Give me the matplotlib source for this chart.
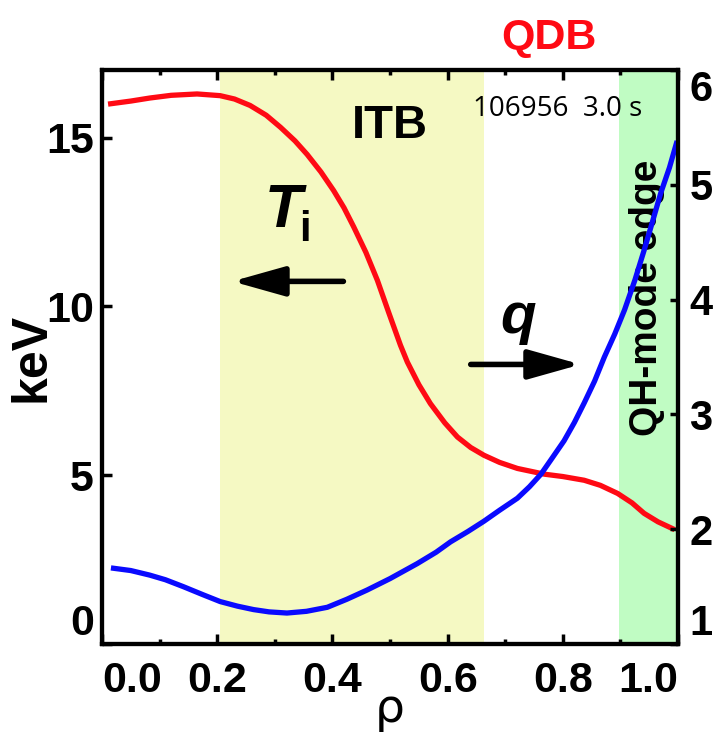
import matplotlib
matplotlib.use("Agg")
import matplotlib.pyplot as plt
from matplotlib.ticker import MultipleLocator, FixedLocator

# ion temperature profile (keV) vs normalized radius
rho_ti = [0.015, 0.05, 0.083, 0.12, 0.165, 0.205, 0.23, 0.257, 0.285, 0.31,
          0.335, 0.356, 0.38, 0.402, 0.42, 0.437, 0.458, 0.478, 0.498, 0.518,
          0.53, 0.55, 0.57, 0.595, 0.617, 0.64, 0.663, 0.69, 0.721, 0.768,
          0.80, 0.837, 0.865, 0.895, 0.92, 0.941, 0.965, 0.99]
ti_kev = [16.0, 16.08, 16.17, 16.25, 16.29, 16.24, 16.14, 15.95, 15.66, 15.3,
          14.9, 14.5, 13.98, 13.43, 12.92, 12.35, 11.6, 10.77, 9.8, 8.85,
          8.35, 7.68, 7.12, 6.55, 6.13, 5.82, 5.59, 5.38, 5.2, 5.03,
          4.96, 4.85, 4.7, 4.46, 4.18, 3.87, 3.62, 3.42]

# safety factor profile
rho_q = [0.02, 0.05, 0.083, 0.11, 0.141, 0.175, 0.205, 0.235, 0.263, 0.29,
         0.321, 0.355, 0.391, 0.425, 0.46, 0.5, 0.547, 0.58, 0.605, 0.635,
         0.663, 0.69, 0.721, 0.742, 0.762, 0.78, 0.802, 0.82, 0.837, 0.855,
         0.872, 0.89, 0.907, 0.925, 0.941, 0.955, 0.97, 0.985, 0.997]
q_vals = [1.66, 1.64, 1.60, 1.56, 1.50, 1.43, 1.37, 1.33, 1.30, 1.28,
          1.27, 1.285, 1.32, 1.39, 1.47, 1.57, 1.70, 1.80, 1.89, 1.98,
          2.07, 2.165, 2.27, 2.37, 2.48, 2.61, 2.77, 2.93, 3.10, 3.29,
          3.50, 3.70, 3.91, 4.17, 4.43, 4.67, 4.93, 5.15, 5.36]

itb_band = (0.205, 0.663)
edge_band = (0.897, 1.0)

x_ticks = [0.0, 0.2, 0.4, 0.6, 0.8, 1.0]
ti_ticks = [0, 5, 10, 15]
q_ticks = [1, 2, 3, 4, 5, 6]

bold_font = 'Liberation Sans'

fig = plt.figure(figsize=(7.15, 7.43), dpi=100)
ax = fig.add_axes([0.1427, 0.1332, 0.8057, 0.7726])
ax2 = ax.twinx()

ax.axvspan(*itb_band, color='#f5f9c3', lw=0, zorder=0)
ax.axvspan(*edge_band, color='#c0fcc3', lw=0, zorder=0)

ax.plot(rho_ti, ti_kev, color='#ff0a14', lw=3.8, solid_joinstyle='round')
ax2.plot(rho_q, q_vals, color='#0a0aff', lw=3.8, solid_joinstyle='round')

ax.set_xlim(0, 1.0)
ax.set_ylim(0, 17)
ax2.set_ylim(1, 6)

for a in (ax, ax2):
    for s in a.spines.values():
        s.set_linewidth(3)

ax.xaxis.set_major_locator(FixedLocator(x_ticks))
ax.xaxis.set_minor_locator(MultipleLocator(0.1))
ax.yaxis.set_major_locator(FixedLocator(ti_ticks))
ax2.yaxis.set_major_locator(FixedLocator(q_ticks))

ax.tick_params(axis='x', which='both', direction='in', top=True, width=2.5, pad=12)
ax.tick_params(axis='x', which='major', length=7)
ax.tick_params(axis='x', which='minor', length=3.5)
ax.tick_params(axis='y', direction='in', length=7, width=2.5, pad=6)
ax2.tick_params(axis='y', direction='in', length=6, width=2.5, pad=8)

ax.set_xticklabels(['%.1f' % v for v in x_ticks])
ax.set_yticklabels([str(v) for v in ti_ticks])
ax2.set_yticklabels([str(v) for v in q_ticks])
for lab in ax.get_xticklabels() + ax.get_yticklabels():
    lab.set_family(bold_font)
    lab.set_fontweight('bold')
    lab.set_fontsize(31)
for lab in ax2.get_yticklabels():
    lab.set_family(bold_font)
    lab.set_fontweight('bold')
    lab.set_fontsize(30)

# pull the end labels inside the frame
ax.get_xticklabels()[0].set_ha('left')
ax.get_xticklabels()[-1].set_ha('right')
ax.get_yticklabels()[0].set_va('bottom')
ax2.get_yticklabels()[0].set_va('bottom')
ax2.get_yticklabels()[-1].set_va('top')

ax.set_ylabel('keV', family=bold_font, fontweight='bold', fontsize=36)
ax.yaxis.set_label_coords(-0.082, 0.5)
ax.set_xlabel('\u03c1', fontsize=34)
ax.xaxis.set_label_coords(0.5, -0.075)

ax.text(0.499, 15.0, 'ITB', family=bold_font, fontweight='bold', fontsize=34,
        ha='center', va='baseline')
ax.text(0.282, 12.34, 'T', family=bold_font, fontweight='bold', style='italic',
        fontsize=44, ha='left', va='baseline')
ax.text(0.343, 11.95, 'i', family=bold_font, fontweight='bold', fontsize=30,
        ha='left', va='baseline')
ax.text(0.722, 9.2, 'q', family=bold_font, fontweight='bold', style='italic',
        fontsize=42, ha='center', va='baseline')
ax.text(0.791, 15.65, '106956  3.0 s', family='Open Sans', fontsize=20,
        ha='center', va='baseline')
ax.text(0.946, 10.24, 'QH-mode edge', family=bold_font, fontweight='bold',
        fontsize=28, rotation=90, ha='center', va='center')
ax.text(0.776, 17.63, 'QDB', family=bold_font, fontweight='bold', fontsize=31,
        color='#ff0a14', ha='center', va='baseline', clip_on=False)

arrow = dict(arrowstyle='-|>,head_length=1.6,head_width=0.45', mutation_scale=20,
             lw=4, color='k', shrinkA=0, shrinkB=0)
ax.annotate('', xy=(0.226, 10.74), xytext=(0.419, 10.74), arrowprops=arrow)
ax.annotate('', xy=(0.831, 8.28), xytext=(0.64, 8.28), arrowprops=arrow)

fig.savefig('out.png', dpi=100)
